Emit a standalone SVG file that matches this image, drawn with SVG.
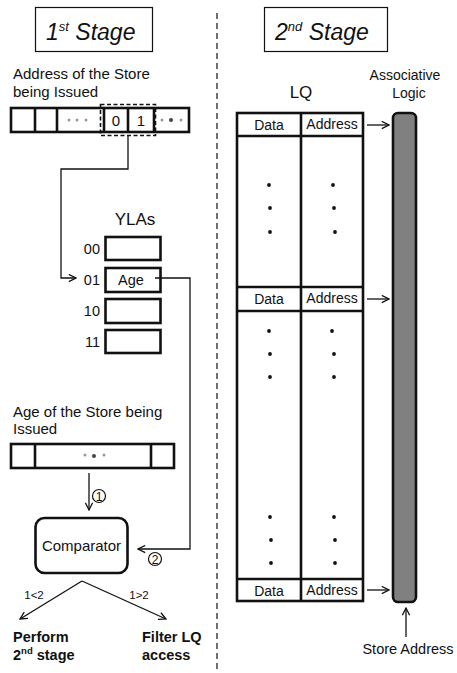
<svg xmlns="http://www.w3.org/2000/svg" width="457" height="673" viewBox="0 0 457 673">
<defs>
<style>
.t{font-family:"Liberation Sans",Arial,sans-serif;fill:#111}
.it{font-style:italic}
.b{font-weight:bold}
.thin{fill:none;stroke:#111;stroke-width:1.2}
.thick{fill:#fff;stroke:#111;stroke-width:2.6}
.ln{fill:none;stroke:#111;stroke-width:1.3}
.dot{fill:#111}
.sd{fill:#999}
.md{fill:#444}
.cc{fill:none;stroke:#111;stroke-width:1.2}
</style>
<marker id="ah" viewBox="0 0 10 10" refX="9" refY="5" markerWidth="9" markerHeight="9" markerUnits="userSpaceOnUse" orient="auto">
<path d="M1,1 L9,5 L1,9" fill="none" stroke="#111" stroke-width="1.4"/>
</marker>
</defs>
<rect width="457" height="673" fill="#fff"/>

<line x1="217" y1="13" x2="217" y2="673" stroke="#111" stroke-width="1.2" stroke-dasharray="6,4"/>

<g id="title1">
<rect x="35.5" y="7.5" width="117" height="44" class="thin"/>
<text x="46" y="40" class="t it" font-size="23">1<tspan font-size="13" dy="-9">st</tspan><tspan dy="9"> Stage</tspan></text>
</g>
<g id="title2">
<rect x="264.5" y="7.5" width="123" height="44" class="thin"/>
<text x="275" y="40" class="t it" font-size="23">2<tspan font-size="13" dy="-9">nd</tspan><tspan dy="9"> Stage</tspan></text>
</g>

<g id="addr-reg">
<text x="13" y="79" class="t" font-size="15">Address of the Store</text>
<text x="13" y="97" class="t" font-size="15">being Issued</text>
<rect x="11" y="108" width="178" height="24" class="thick"/>
<line x1="35" y1="108" x2="35" y2="132" stroke="#111" stroke-width="2.6"/>
<line x1="57" y1="108" x2="57" y2="132" stroke="#111" stroke-width="2.6"/>
<line x1="104" y1="108" x2="104" y2="132" stroke="#111" stroke-width="2.6"/>
<line x1="128" y1="108" x2="128" y2="132" stroke="#111" stroke-width="2.6"/>
<line x1="154" y1="108" x2="154" y2="132" stroke="#111" stroke-width="2.6"/>
<circle cx="69" cy="120" r="1.5" class="sd"/><circle cx="77" cy="120" r="1.5" class="sd"/><circle cx="86" cy="120" r="1.5" class="sd"/>
<circle cx="162" cy="120" r="1.5" class="sd"/><circle cx="171" cy="120" r="2" class="md"/><circle cx="181" cy="120" r="1.5" class="sd"/>
<text x="116" y="126" class="t" font-size="15" text-anchor="middle">0</text>
<text x="141" y="126" class="t" font-size="15" text-anchor="middle">1</text>
<rect x="100.5" y="104.5" width="55" height="31" fill="none" stroke="#111" stroke-width="1.6" stroke-dasharray="4,2.5"/>
</g>

<g id="ylas">
<text x="135" y="225" class="t" font-size="17" text-anchor="middle">YLAs</text>
<rect x="105.5" y="237" width="55" height="23" class="thick"/>
<rect x="105.5" y="268" width="55" height="24" class="thick"/>
<rect x="105.5" y="299" width="55" height="24" class="thick"/>
<rect x="105.5" y="330" width="55" height="23" class="thick"/>
<text x="100" y="254" class="t" font-size="14.5" text-anchor="end">00</text>
<text x="100" y="285" class="t" font-size="14.5" text-anchor="end">01</text>
<text x="100" y="316" class="t" font-size="14.5" text-anchor="end">10</text>
<text x="100" y="347" class="t" font-size="14.5" text-anchor="end">11</text>
<text x="131" y="285" class="t" font-size="14.5" text-anchor="middle">Age</text>
</g>

<g id="age-reg">
<text x="13" y="417" class="t" font-size="15">Age of the Store being</text>
<text x="13" y="434" class="t" font-size="15">Issued</text>
<rect x="11" y="444" width="163" height="24" class="thick"/>
<line x1="35" y1="444" x2="35" y2="468" stroke="#111" stroke-width="2.6"/>
<line x1="151" y1="444" x2="151" y2="468" stroke="#111" stroke-width="2.6"/>
<circle cx="85" cy="455" r="1.5" class="sd"/><circle cx="94" cy="456" r="2" class="md"/><circle cx="104" cy="455" r="1.5" class="sd"/>
</g>

<g id="comparator">
<rect x="35.5" y="518" width="92" height="55" rx="9" class="thick"/>
<text x="81.5" y="551" class="t" font-size="15" text-anchor="middle">Comparator</text>
</g>

<g id="outcomes">
<text x="13" y="642" class="t b" font-size="14.5">Perform</text>
<text x="13" y="660" class="t b" font-size="14.5">2<tspan font-size="9.5" dy="-6">nd</tspan><tspan dy="6"> stage</tspan></text>
<text x="142" y="642" class="t b" font-size="14.5">Filter LQ</text>
<text x="142" y="660" class="t b" font-size="14.5">access</text>
</g>

<g id="lq">
<text x="301" y="98" class="t" font-size="17" text-anchor="middle">LQ</text>
<rect x="237" y="113" width="126" height="488" class="thick"/>
<line x1="301" y1="113" x2="301" y2="601" stroke="#111" stroke-width="2.6"/>
<line x1="237" y1="136" x2="363" y2="136" stroke="#111" stroke-width="2.6"/>
<line x1="237" y1="287" x2="363" y2="287" stroke="#111" stroke-width="2.6"/>
<line x1="237" y1="311" x2="363" y2="311" stroke="#111" stroke-width="2.6"/>
<line x1="237" y1="579" x2="363" y2="579" stroke="#111" stroke-width="2.6"/>
<text x="269" y="130" class="t" font-size="14" text-anchor="middle">Data</text>
<text x="332" y="129" class="t" font-size="14" text-anchor="middle">Address</text>
<text x="269" y="304" class="t" font-size="14" text-anchor="middle">Data</text>
<text x="332" y="303" class="t" font-size="14" text-anchor="middle">Address</text>
<text x="269" y="596" class="t" font-size="14" text-anchor="middle">Data</text>
<text x="332" y="595" class="t" font-size="14" text-anchor="middle">Address</text>
<circle cx="269" cy="185" r="1.9" class="dot"/><circle cx="270" cy="208" r="1.9" class="dot"/><circle cx="270" cy="232" r="1.9" class="dot"/>
<circle cx="333" cy="185" r="1.9" class="dot"/><circle cx="334" cy="208" r="1.9" class="dot"/><circle cx="335" cy="232" r="1.9" class="dot"/>
<circle cx="269" cy="331" r="1.9" class="dot"/><circle cx="270" cy="354" r="1.9" class="dot"/><circle cx="270" cy="377" r="1.9" class="dot"/>
<circle cx="332" cy="331" r="1.9" class="dot"/><circle cx="334" cy="354" r="1.9" class="dot"/><circle cx="334" cy="377" r="1.9" class="dot"/>
<circle cx="270" cy="517" r="1.9" class="dot"/><circle cx="271" cy="540" r="1.9" class="dot"/><circle cx="271" cy="563" r="1.9" class="dot"/>
<circle cx="334" cy="517" r="1.9" class="dot"/><circle cx="335" cy="540" r="1.9" class="dot"/><circle cx="335" cy="563" r="1.9" class="dot"/>
</g>

<g id="assoc">
<text x="405" y="80" class="t" font-size="14" text-anchor="middle">Associative</text>
<text x="409" y="98" class="t" font-size="14" text-anchor="middle">Logic</text>
<rect x="393" y="113" width="23" height="489" rx="5" fill="#808080" stroke="#111" stroke-width="2.6"/>
</g>

<g id="store-addr">
<text x="408" y="654" class="t" font-size="14.5" text-anchor="middle">Store Address</text>
</g>

<g id="connectors">
<polyline points="128,136 128,169 61,169 61,278 76,278" class="ln" marker-end="url(#ah)"/>
<polyline points="155,278 190,278 190,549 138,549" class="ln" marker-end="url(#ah)"/>
<line x1="89" y1="473" x2="89" y2="510" class="ln" marker-end="url(#ah)"/>
<line x1="82" y1="581" x2="20" y2="619" class="ln" marker-end="url(#ah)"/>
<line x1="82" y1="581" x2="166" y2="619" class="ln" marker-end="url(#ah)"/>
<line x1="367" y1="125" x2="389" y2="125" class="ln" marker-end="url(#ah)"/>
<line x1="367" y1="299" x2="389" y2="299" class="ln" marker-end="url(#ah)"/>
<line x1="367" y1="590" x2="389" y2="590" class="ln" marker-end="url(#ah)"/>
<line x1="406" y1="637" x2="406" y2="608" class="ln" marker-end="url(#ah)"/>
<circle cx="99" cy="496" r="6.5" class="cc"/>
<text x="99" y="500.5" class="t" font-size="12" text-anchor="middle">1</text>
<circle cx="155" cy="559" r="6.5" class="cc"/>
<text x="155" y="563.5" class="t" font-size="12" text-anchor="middle">2</text>
<text x="34" y="599" class="t" font-size="11.5" text-anchor="middle">1&lt;2</text>
<text x="139" y="599" class="t" font-size="11.5" text-anchor="middle">1&gt;2</text>
</g>
</svg>
